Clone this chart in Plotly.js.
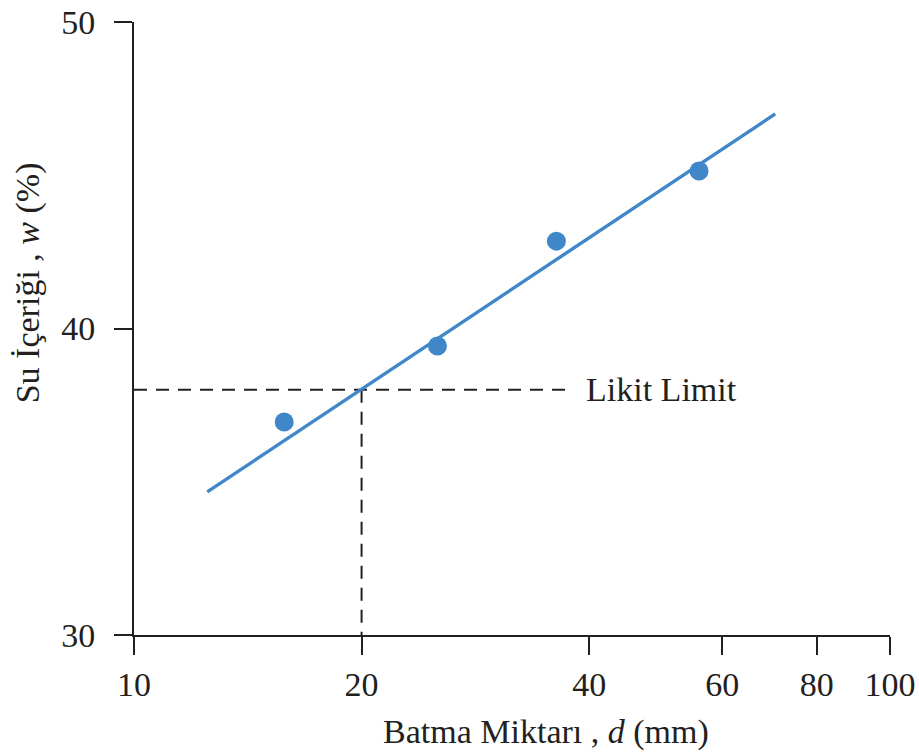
<!DOCTYPE html>
<html>
<head>
<meta charset="utf-8">
<script src="https://cdn.plot.ly/plotly-3.0.1.min.js"></script>
<style>html,body{margin:0;padding:0;background:#fff;}#chart{width:919px;height:753px;}</style>
</head>
<body>
<div id="chart"></div>
<script>
// Data
const penetration = [15.8, 25.2, 36.2, 55.9];      // d (mm)
const waterContent = [36.95, 39.43, 42.85, 45.14]; // w (%)
const fitX = [12.5, 70.5];
const fitY = [34.67, 47.0];
const liquidLimitD = 20;
const liquidLimitW = 38;
const dashEndX = 38;
const xTickVals = [10, 20, 40, 60, 80, 100];
const xTickText = ['10', '20', '40', '60', '80', '100'];
const yTickVals = [30, 40, 50];
const xTitle = 'Batma Miktarı , <i>d</i> (mm)';
const yTitle = 'Su İçeriği , <i>w</i> (%)';
const llLabel = 'Likit Limit';

const font = {family: '"Liberation Serif", "Times New Roman", serif', size: 34, color: '#231f20'};
const blue = '#3f87c9';
const dashCol = '#231f20';

const traces = [
  {x: [10, dashEndX], y: [liquidLimitW, liquidLimitW], mode: 'lines',
   line: {color: dashCol, width: 2, dash: '13px,9px'}, hoverinfo: 'skip'},
  {x: [liquidLimitD, liquidLimitD], y: [liquidLimitW, 30], mode: 'lines',
   line: {color: dashCol, width: 2, dash: '13px,9px'}, hoverinfo: 'skip'},
  {x: fitX, y: fitY, mode: 'lines', line: {color: blue, width: 3.4}},
  {x: penetration, y: waterContent, mode: 'markers',
   marker: {color: blue, size: 19, line: {width: 0}}}
];

const layout = {
  width: 919, height: 753,
  margin: {l: 134, r: 29, t: 22, b: 118},
  paper_bgcolor: '#fff', plot_bgcolor: '#fff',
  showlegend: false,
  font: font,
  xaxis: {
    type: 'log', range: [1, 2],
    tickvals: xTickVals, ticktext: xTickText,
    ticks: 'outside', ticklen: 18, tickwidth: 2, tickcolor: '#231f20',
    showline: true, linecolor: '#231f20', linewidth: 2,
    showgrid: false, zeroline: false,
    tickfont: font, ticklabelstandoff: 0
  },
  yaxis: {
    range: [30, 50],
    tickvals: yTickVals,
    ticks: 'outside', ticklen: 18, tickwidth: 2, tickcolor: '#231f20',
    showline: true, linecolor: '#231f20', linewidth: 2,
    showgrid: false, zeroline: false,
    tickfont: font, ticklabelstandoff: 12
  },
  annotations: [
    {text: llLabel, xref: 'x', yref: 'y', x: Math.log10(dashEndX), y: liquidLimitW,
     xanchor: 'left', yanchor: 'middle', xshift: 12, showarrow: false, font: font},
    {text: xTitle, xref: 'paper', yref: 'paper', x: 0.545, y: -0.158,
     xanchor: 'center', yanchor: 'middle', showarrow: false, font: font},
    {text: yTitle, xref: 'paper', yref: 'paper', x: -0.14, y: 0.574, textangle: -90,
     xanchor: 'center', yanchor: 'middle', showarrow: false, font: font}
  ]
};

Plotly.newPlot('chart', traces, layout, {displayModeBar: false, staticPlot: true});
</script>
</body>
</html>
